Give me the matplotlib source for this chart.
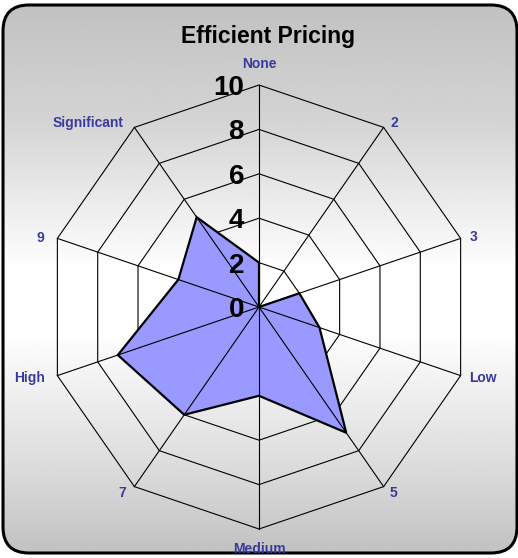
import numpy as np
import matplotlib.pyplot as plt
from matplotlib.patches import FancyBboxPatch, Polygon

plt.rcParams['font.family'] = ['Liberation Sans', 'DejaVu Sans']

title = 'Efficient Pricing'
categories = ['None', '2', '3', 'Low', '5', 'Medium', '7', 'High', '9', 'Significant']
values = [2, 0, 2, 3, 7, 4, 6, 7, 4, 5]
rings = [2, 4, 6, 8, 10]
tick_labels = ['0', '2', '4', '6', '8', '10']

# label offsets (px) from the outer vertex, with alignment
label_pos = [
    (0, 21, 'center'), (7, 4, 'left'), (9, 1, 'left'), (9, -2, 'left'),
    (6, -6, 'left'), (0, -20, 'center'), (-8, -6, 'right'), (-12, -2, 'right'),
    (-13, 0, 'right'), (-11, 4, 'right'),
]

W, H = 518, 558
fig = plt.figure(figsize=(W / 100, H / 100), dpi=100)
fig.patch.set_facecolor('white')

# background panel with vertical grey-white-grey gradient
bg = fig.add_axes([0, 0, 1, 1])
bg.set_xlim(0, W)
bg.set_ylim(H, 0)
bg.axis('off')
yy = np.linspace(5, 553, 300)
shade = np.interp(yy, [5, 120, 270, 330, 470, 553], [0.76, 0.83, 1.0, 1.0, 0.86, 0.76])
grad = np.repeat(shade[:, None], 2, axis=1)
im = bg.imshow(grad, cmap='gray', vmin=0, vmax=1, extent=[3, 517, 553, 5],
               aspect='auto', interpolation='bilinear', zorder=0)
panel = FancyBboxPatch((3, 5), 514, 548, boxstyle='round,pad=0,rounding_size=26',
                       facecolor='none', edgecolor='black', linewidth=2.2, zorder=5)
bg.add_patch(panel)
im.set_clip_path(panel)

# radar axes, data units = chart values
ax = fig.add_axes([0, 0, 1, 1])
ax.patch.set_alpha(0)
ax.axis('off')
cx, cy, rx, ry = 259, 307, 21.2, 22.2  # centre px and px per unit
ax.set_xlim(-cx / rx, (W - cx) / rx)
ax.set_ylim(-(H - cy) / ry, cy / ry)

n = len(categories)
ang = np.arange(n) * 2 * np.pi / n
sx, sy = np.sin(ang), np.cos(ang)

# rings sit under the fill, spokes over it
for r in rings:
    ax.add_patch(Polygon(np.c_[r * sx, r * sy], closed=True, fill=False,
                         edgecolor='black', linewidth=0.8, zorder=1))
for i in range(n):
    ax.plot([0, 10 * sx[i]], [0, 10 * sy[i]], color='black', linewidth=0.8, zorder=3)

v = np.array(values, dtype=float)
ax.add_patch(Polygon(np.c_[v * sx, v * sy], closed=True, facecolor='#9999ff',
                     edgecolor='none', zorder=2))
ax.add_patch(Polygon(np.c_[v * sx, v * sy], closed=True, fill=False,
                     edgecolor='black', linewidth=1.6, zorder=4))

for i, lab in enumerate(categories):
    dx, dy, ha = label_pos[i]
    ax.annotate(lab, (10 * sx[i], 10 * sy[i]), xytext=(dx * 0.72, dy * 0.72),
                textcoords='offset points', ha=ha, va='center', fontsize=10,
                fontweight='bold', color='#3a3a9e', zorder=6)

for t in tick_labels:
    ax.annotate(t, (0, float(t)), xytext=(-15 * 0.72, 0), textcoords='offset points',
                ha='right', va='center_baseline', fontsize=20, fontweight='bold',
                color='black', zorder=6)

fig.text(268 / W, 1 - 36 / H, title, ha='center', va='center', fontsize=16.5,
         fontweight='bold', color='black')

fig.savefig('out.png', dpi=100)
